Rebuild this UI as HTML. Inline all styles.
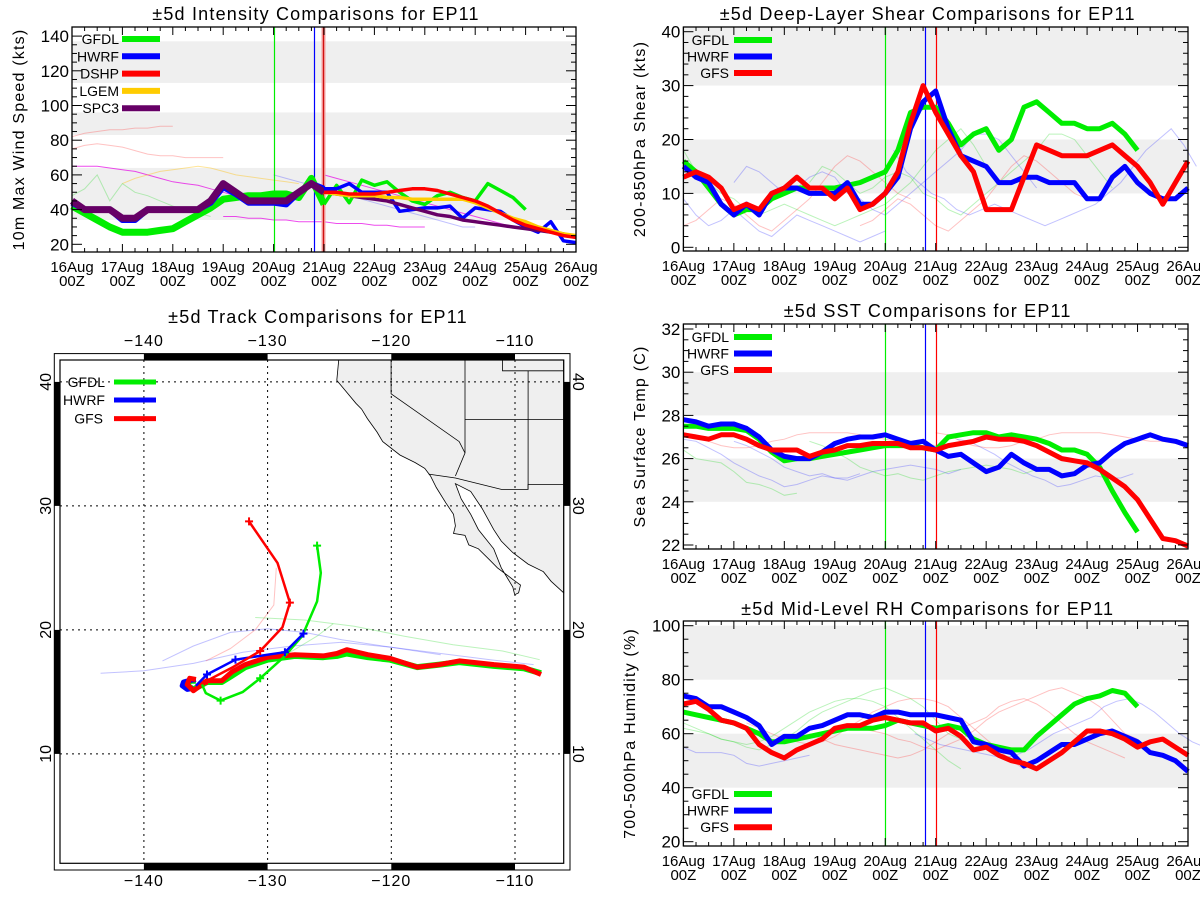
<!DOCTYPE html>
<html><head><meta charset="utf-8">
<style>
html,body{margin:0;padding:0;background:#fff;}
svg{display:block;font-family:"Liberation Sans",sans-serif;}
</style></head>
<body>
<svg id="fig" width="1200" height="900" viewBox="0 0 1200 900"></svg>
<script>
// ---------------- Intensity data (kts), 6-hourly ----------------
const spc3History = [45,40,40,40,35,35,40,40,40,40,40,45,55,50,45,45,45,45,50,55,50];
const hwrfIntHistory = [44,40,40,40,34,34,40,40,40,40,40,44,53,49,44,44,44,43,50,55,52];
const gfdlIntHistory = [42,38,34,30,27,27,27,28,29,33,37,41,46,47,48,48,49,49,47,58,43];
const gfdlIntFcst = [43,54,44,57,54,56,50,45,43,48,50,47,45,55,51,47,40];
const hwrfIntFcst = [52,52,55,50,50,50,39,40,41,41,42,35,41,40,39,34,30,27,33,22,21];
const dshpFcst = [50,50,49,49,49,50,51,52,52,51,49,47,45,42,38,34,31,29,27,25,24];
const lgemFcst = [50,49,48,48,48,47,47,46,46,46,46,46,44,41,38,35,33,30,28,26,25];
const spc3Fcst = [50,49,48,47,46,45,43,41,39,37,36,34,33,32,31,30,29,28,27,26,24];
const ghostInt1 = [82,84,85,86,86,87,87,88,88];
const ghostInt2 = [75,77,78,77,76,74,72,71,71,70,70,70,70];
const ghostInt3 = [65,65,65,64,63,62,60,58,56,55,54,52,50,48];
const ghostInt4 = [55,58,60,62,63,64,65,64,62,60,59,58,57,56,55];
const ghostInt5 = [36,36,35,35,34,34,33,33,33,32,32,32,31,31,30,30,30];
const ghostInt6 = [48,52,60,45,55,50,48,45,42,40,38,36];
const ghostInt7 = [60,58,56,54,52,50,48,46,44,42,40,38,36,34,32,30,30];
// ---------------- Shear data (kts) ----------------
const gfsShear = [13,14,13,11,7,8,7,10,11,13,11,11,9,11,7,8,10,14,23,30,25,21,17,14,7,7,7,13,19,18,17,17,17,18,19,17,15,12,8,12,16];
const hwrfShear = [15,13,12,8,6,8,6,10,11,11,10,10,10,12,8,8,10,13,22,27,29,22,17,16,15,12,12,13,13,12,12,12,9,9,13,15,12,10,9,9,11];
const gfdlShear = [16,14,11,8,6,7,7,9,10,11,11,11,11,11.5,12,13,14,18,25,26,26,23,19,21,22,18,20,26,27,25,23,23,22,22,23,21,18];
const ghostShear1 = [9,6,4,5,7,5,3,2,4,6,5,4,3,2,1,2,3];
const ghostShear2 = [4,5,7,9,8,6,4,3,5,7,9,12,15,17,16,14,12,10,9];
const ghostShear3 = [18,14,12,10,9,7,6,7,8,7,6,5,4,5,6,7,8,10,12,15,18,20,22,19,15];
const ghostShear4 = [12,15,14,12,10,11,13,14,13,10,9,7,6,8,10,12,14,16,18,21,21,20,17,14,11];
// ---------------- SST data (C) ----------------
const hwrfSST = [27.8,27.7,27.5,27.6,27.6,27.4,27.0,26.4,26.1,26.0,26.0,26.3,26.7,26.9,27.0,27.0,27.1,26.9,26.7,26.8,26.4,26.1,26.2,25.8,25.4,25.6,26.2,25.8,25.5,25.5,25.2,25.3,25.7,25.8,26.3,26.7,26.9,27.1,26.9,26.8,26.6];
const gfsSST = [27.1,27.0,26.9,27.1,27.1,26.9,26.6,26.4,26.4,26.4,26.1,26.3,26.4,26.6,26.6,26.7,26.7,26.7,26.5,26.5,26.4,26.6,26.7,26.8,27.0,26.9,26.9,26.8,26.6,26.3,26.0,25.9,25.8,25.5,25.1,24.7,24.1,23.2,22.3,22.2,21.95];
const gfdlSST = [27.5,27.5,27.4,27.4,27.4,27.3,26.9,26.3,25.9,26.0,26.0,26.1,26.2,26.3,26.4,26.5,26.6,26.6,26.6,26.5,26.4,27.0,27.1,27.2,27.2,27.0,27.1,27.0,26.9,26.7,26.4,26.4,26.2,25.6,24.5,23.5,22.6];
const ghostSST1 = [26.4,26.0,25.9,25.8,25.4,24.9,24.8,24.6,24.3,24.4];
const ghostSST2 = [26.9,26.8,26.5,26.2,25.8,25.5,25.2,25.0,24.7,24.8,25.0,25.2,25.1,25.1,25.3];
const ghostSST3 = [26.8,26.6,26.3,26.0,25.6,25.4,25.2,25.3,25.1,25.0,25.2,25.4,25.5,25.6,25.7,25.6,25.5,25.3,25.5];
const ghostSST4 = [27.2,27.1,26.8,26.6,26.5,26.5,26.6,26.8,26.9,27.1,27.2,27.2,27.2,27.2,27.1,27.0,26.9,26.8,26.8,26.7,26.6];
// ---------------- RH data (%) ----------------
const hwrfRH = [74,73,70,70,68,66,63,56,59,59,62,63,65,67,67,66,68,68,67,67,67,66,65,57,56,54,53,48,50,53,56,56,58,60,61,59,57,53,52,50,46];
const gfsRH = [71,72,69,65,64,62,56,53,51,54,56,58,62,63,63,65,66,65,64,64,61,62,59,54,55,52,50,49,47,50,53,57,61,61,60,58,55,57,58,55,52];
const gfdlRH = [68,67,66,65,64,62,60,57,57,58,59,60,61,62,62,62,63,65,64,63,62,63,62,58,56,55,54,54,59,63,67,71,73,74,76,75,70];
const ghostRH1 = [55,53,53,53,52,49,48,49,50,51,52];
const ghostRH2 = [62,61,60,58,57,55,54,56,58,61,65,68,70,72,74,76,77,75,73,70,65,60,58];
const ghostRH3 = [64,62,60,58,57,56,57,59,62,65,68,70,72,73,73,72,70,66,62,58,54,50,47];
const ghostRH4 = [60,58,56,55,54,53,52,51,52,54,57,60,62,64,66,70,72,73,71,68,64,60,57,55,53,51];
// ---------------- Track data (lon, lat) ----------------
const bestLon = [-107.9,-109.3,-111.7,-114.5,-116.1,-117.9,-120.1,-121.9,-123.6,-124.4,-125.5,-127.8,-130,-131.8,-132.9,-133.7,-134.9,-136,-136.5,-136.3,-135.8];
const bestLat = [16.4,17.0,17.2,17.5,17.2,17.0,17.7,18.0,18.4,18.1,17.9,18.0,17.8,17.2,16.6,15.9,15.9,15.1,15.6,16.1,16.0];
const gfdlBestLat = [16.5,16.9,17.1,17.4,17.2,17.0,17.6,17.8,18.1,17.9,17.8,17.9,17.6,17.0,16.3,15.8,15.8,15.2,15.5,15.9,15.9];
const hwrfHookLon = [-135.8,-136.4,-136.8,-136.9,-136.5,-136.0];
const hwrfHookLat = [16.0,15.9,15.8,15.5,15.2,15.3];
const gfsTrkLon = [-134.9,-132.8,-130.6,-128.8,-128.2,-129.2,-131.5];
const gfsTrkLat = [15.9,17.0,18.3,20.2,22.2,25.4,28.75];
const gfdlTrkLon = [-135.3,-135.0,-133.8,-132.0,-130.6,-128.7,-127.2,-126.0,-125.7,-126.0];
const gfdlTrkLat = [15.6,14.9,14.3,15.0,16.1,17.8,19.5,22.3,24.6,26.8];
const hwrfTrkLon = [-135.8,-134.9,-132.6,-130.0,-128.6,-127.1];
const hwrfTrkLat = [15.5,16.4,17.6,18.0,18.2,19.7];
const ghostTrk1Lon = [-143.5,-140,-136,-132,-128,-124,-120,-116,-112,-108.5];
const ghostTrk1Lat = [16.5,16.7,17.3,18.2,18.7,19.0,18.6,18.1,17.6,17.2];
const ghostTrk2Lon = [-131,-127,-123,-119,-115,-111,-108];
const ghostTrk2Lat = [21.0,20.8,20.3,19.5,18.8,18.3,17.6];
const ghostTrk3Lon = [-138.5,-136,-133,-130,-127,-124,-120,-116];
const ghostTrk3Lat = [17.5,18.7,19.8,20.1,19.8,19.2,18.6,18.0];
const ghostTrk4Lon = [-135,-133,-131,-129.5,-129.3];
const ghostTrk4Lat = [17.5,18.5,20.0,22.0,25.0];
const ghostTrk5Lon = [-134,-131,-128,-126,-124.7];
const ghostTrk5Lat = [16.0,17.3,18.3,19.5,20.5];
const dayLabels = ["16Aug","17Aug","18Aug","19Aug","20Aug","21Aug","22Aug","23Aug","24Aug","25Aug","26Aug"];
const lonTicks = [-140,-130,-120,-110];
const latTicks = [10,20,30,40];

const NS="http://www.w3.org/2000/svg";
const svg=document.getElementById('fig');
function mk(tag,attrs,parent){const e=document.createElementNS(NS,tag);for(const k in attrs)e.setAttribute(k,attrs[k]);(parent||svg).appendChild(e);return e;}
function txt(s,x,y,size,anchor,parent,extra){const t=mk('text',Object.assign({x:x,y:y,'font-size':size,'text-anchor':anchor||'middle',fill:'#000'},extra||{}),parent);t.textContent=s;return t;}

function panel(c){
  const g=mk('g',{});
  
  
  const X=h=>c.x0+(h/240)*(c.x1-c.x0);
  const Y=v=>c.yA+(v-c.vA)*(c.yB-c.yA)/(c.vB-c.vA);
  c.bands.forEach(b=>{
    const r=mk('rect',{x:c.x0,y:Math.max(c.y0,Y(b[1])),width:c.x1-c.x0,height:Math.min(c.y1,Y(b[0]))-Math.max(c.y0,Y(b[1])),fill:'#efefef'},g);
    
    
  });
  const t=txt(c.title,(c.x0+c.x1)/2-8,c.ty,18,'middle',g,{'letter-spacing':'1.2'});
  
  
  c.ghosts.forEach(gh=>{
    const p=gh.v.map((v,i)=>X(gh.s+6*i).toFixed(1)+','+Y(v).toFixed(1)).join(' ');
    const l=mk('polyline',{points:p,fill:'none',stroke:gh.c,'stroke-width':1},g);
    
    
  });
  c.vlines.forEach(v=>{
    const x=Math.round(X(v.h))+0.5;
    if(v.w>1.5){mk('line',{x1:x,x2:x,y1:c.y0,y2:c.y1,stroke:'#f4a0a0','stroke-width':v.w},g);}
    const l=mk('line',{x1:x,x2:x,y1:c.y0,y2:c.y1,stroke:v.c,'stroke-width':1.2},g);
    
    
  });
  c.series.forEach(s=>{
    const p=s.v.map((v,i)=>X(s.s+6*i).toFixed(1)+','+Y(v).toFixed(1)).join(' ');
    const l=mk('polyline',{points:p,fill:'none',stroke:s.c,'stroke-width':s.w,'stroke-linejoin':'round'},g);
    
    
  });
  const fr=mk('rect',{x:c.x0,y:c.y0,width:c.x1-c.x0,height:c.y1-c.y0,fill:'none',stroke:'#000','stroke-width':1.3},g);
  
  
  for(let h=0;h<=240;h+=6){
    const L=(h%24===0)?8:4;const x=X(h);
    mk('line',{x1:x,x2:x,y1:c.y1,y2:c.y1-L,stroke:'#000'},g);
    mk('line',{x1:x,x2:x,y1:c.y0,y2:c.y0+L,stroke:'#000'},g);
  }
  dayLabels.forEach((d,i)=>{
    const a=txt(d,X(i*24),c.y1+20,15,'middle',g);
    
    
    const b=txt('00Z',X(i*24),c.y1+34,15,'middle',g);
    
    
  });
  for(let v=c.ymin;v<=c.ymax+1e-9;v+=c.minor){
    const isMaj=Math.abs(((v-c.ymin)/c.major)-Math.round((v-c.ymin)/c.major))<1e-6;
    const y=Y(v);const L=isMaj?10:5;
    mk('line',{x1:c.x0,x2:c.x0+L,y1:y,y2:y,stroke:'#000'},g);
    mk('line',{x1:c.x1,x2:c.x1-L,y1:y,y2:y,stroke:'#000'},g);
    if(isMaj){const a=txt(String(Math.round(v)),c.x0-3,y+6,17,'end',g);
      
      }
  }
  const yl=txt(c.ylab,0,0,16,'middle',g,{transform:`translate(${c.ylx},${(c.y0+c.y1)/2}) rotate(-90)`,'letter-spacing':'1.2'});
  
  
  c.legend.forEach((e,i)=>{
    const y=c.ly+i*c.lstep;
    const a=txt(e[0],c.ltx,y+5,14,'end',g);
    
    
    const l=mk('line',{x1:c.lx1,x2:c.lx2,y1:y,y2:y,stroke:e[1],'stroke-width':6},g);
    
    
  });
}
const G='#00ee00',B='#0000ff',R='#ff0000',YL='#ffcc00',P='#660066';
const gR='rgba(255,80,80,0.35)',gB='rgba(80,80,255,0.35)',gG='rgba(60,220,60,0.35)',gY='rgba(255,190,0,0.4)',gM='rgba(230,0,230,0.7)';
panel({name:'intensity-chart',title:'±5d Intensity Comparisons for EP11',ty:20,x0:72,x1:576,y0:27,y1:252,yA:244.3,vA:20,yB:36.1,vB:140,
  ymin:20,ymax:140,major:20,minor:5,ylab:'10m Max Wind Speed (kts)',ylx:24,
  bands:[[34,64],[83,96],[113,137]],
  ghosts:[{s:0,v:ghostInt1,c:gR},{s:0,v:ghostInt2,c:gR},{s:0,v:ghostInt3,c:gM},{s:24,v:ghostInt4,c:gY},{s:72,v:ghostInt5,c:gM},{s:0,v:ghostInt6,c:gG},{s:96,v:ghostInt7,c:gB},{s:120,v:ghostInt7,c:gM}],
  vlines:[{h:96,c:G,w:1},{h:115,c:B,w:1},{h:119.5,c:'#d01010',w:4}],
  series:[{s:0,v:gfdlIntHistory,c:G,w:7,n:'gfdl-history-line'},{s:0,v:hwrfIntHistory,c:B,w:6,n:'hwrf-history-line'},{s:0,v:spc3History,c:P,w:7,n:'spc3-history-line'},
    {s:120,v:gfdlIntFcst,c:G,w:3.5,n:'gfdl-forecast-line'},{s:120,v:hwrfIntFcst,c:B,w:3.5,n:'hwrf-forecast-line'},{s:120,v:spc3Fcst,c:P,w:3.5,n:'spc3-forecast-line'},
    {s:120,v:lgemFcst,c:YL,w:3.5,n:'lgem-forecast-line'},{s:120,v:dshpFcst,c:R,w:3.5,n:'dshp-forecast-line'}],
  legend:[['GFDL',G],['HWRF',B],['DSHP',R],['LGEM',YL],['SPC3',P]],ly:39,lstep:17.3,ltx:119,lx1:122,lx2:160});
panel({name:'shear-chart',title:'±5d Deep-Layer Shear Comparisons for EP11',ty:20,x0:683.4,x1:1188,y0:27,y1:251,yA:247.3,vA:0,yB:31.7,vB:40,
  ymin:0,ymax:40,major:10,minor:2,ylab:'200-850hPa Shear (kts)',ylx:645,
  bands:[[10,20],[30,45]],
  ghosts:[{s:0,v:ghostShear1,c:gB},{s:0,v:ghostShear2,c:gR},{s:0,v:ghostShear3,c:gG},{s:24,v:ghostShear4,c:gB},{s:84,v:ghostShear2,c:gR},{s:100,v:ghostShear3,c:gB},{s:60,v:ghostShear4,c:gG}],
  vlines:[{h:96,c:G,w:1},{h:115,c:B,w:1},{h:120,c:R,w:1.5}],
  series:[{s:0,v:gfdlShear,c:G,w:5,n:'gfdl-shear-line'},{s:0,v:hwrfShear,c:B,w:5,n:'hwrf-shear-line'},{s:0,v:gfsShear,c:R,w:5,n:'gfs-shear-line'}],
  legend:[['GFDL',G],['HWRF',B],['GFS',R]],ly:40,lstep:16.5,ltx:729,lx1:734,lx2:772});
panel({name:'sst-chart',title:'±5d SST Comparisons for EP11',ty:317,x0:683.4,x1:1188,y0:324,y1:549,yA:545,vA:22,yB:329,vB:32,
  ymin:22,ymax:32,major:2,minor:0.5,ylab:'Sea Surface Temp (C)',ylx:645,
  bands:[[24,26],[28,30]],
  ghosts:[{s:0,v:ghostSST1,c:gG},{s:0,v:ghostSST2,c:gB},{s:24,v:ghostSST3,c:gB},{s:60,v:ghostSST3,c:gG},{s:120,v:ghostSST4,c:gR},{s:0,v:ghostSST4,c:gR},{s:130,v:ghostSST2,c:gB}],
  vlines:[{h:96,c:G,w:1},{h:115,c:B,w:1},{h:120,c:R,w:1.5}],
  series:[{s:0,v:gfdlSST,c:G,w:5,n:'gfdl-sst-line'},{s:0,v:hwrfSST,c:B,w:5,n:'hwrf-sst-line'},{s:0,v:gfsSST,c:R,w:5,n:'gfs-sst-line'}],
  legend:[['GFDL',G],['HWRF',B],['GFS',R]],ly:337,lstep:16.5,ltx:729,lx1:734,lx2:772});
panel({name:'rh-chart',title:'±5d Mid-Level RH Comparisons for EP11',ty:615,x0:683.4,x1:1188,y0:621,y1:846,yA:841.7,vA:20,yB:625.7,vB:100,
  ymin:20,ymax:100,major:20,minor:5,ylab:'700-500hPa Humidity (%)',ylx:635,
  bands:[[40,60],[80,100]],
  ghosts:[{s:0,v:ghostRH1,c:gB},{s:0,v:ghostRH2,c:gG},{s:30,v:ghostRH3,c:gR},{s:60,v:ghostRH4,c:gR},{s:84,v:ghostRH2,c:gR},{s:110,v:ghostRH4,c:gB},{s:0,v:ghostRH3,c:gG}],
  vlines:[{h:96,c:G,w:1},{h:115,c:B,w:1},{h:120,c:R,w:1.5}],
  series:[{s:0,v:gfdlRH,c:G,w:5,n:'gfdl-rh-line'},{s:0,v:hwrfRH,c:B,w:5,n:'hwrf-rh-line'},{s:0,v:gfsRH,c:R,w:5,n:'gfs-rh-line'}],
  legend:[['GFDL',G],['HWRF',B],['GFS',R]],ly:794,lstep:16.6,ltx:729,lx1:734,lx2:772});

(function(){
  const g=mk('g',{});
  
  
  const ix0=60,ix1=563.7,iy0=360,iy1=863.3;
  const LX=lon=>143.9+(lon+140)*12.37;
  const LY=lat=>629.9-(lat-20)*12.4;
  const tt=txt('±5d Track Comparisons for EP11',318,323,18,'middle',g,{'letter-spacing':'1.2'});
  
  
  mk('rect',{x:54.3,y:353.6,width:515.7,height:516.4,fill:'#fff',stroke:'#000','stroke-width':1},g);
  const land=[[338.7,360.1],[336.8,380.4],[346.3,391.8],[355.9,403.3],[361.6,409.1],[367.4,418.6],[377,432],[382.7,441.6],[399.9,455],[415.2,462.6],[424.8,468.4],[430.5,476],[436.3,487.5],[445.8,502.8],[453.5,514.3],[455.4,525.8],[453.5,533.4],[465,535.4],[468.8,544.9],[478.4,548.8],[489.9,560.2],[497.5,567.9],[512.8,579.4],[520.5,585.1],[518.6,592.8],[514.7,594.7],[512.8,587],[501.3,567.9],[493.7,548.8],[478.4,529.6],[470.7,514.3],[461.2,499],[455.4,483.7],[470.7,491.4],[482.2,508.6],[493.7,529.6],[501.3,541.1],[512.8,552.6],[528.1,564.1],[543.4,571.7],[551.1,581.3],[563.7,592.8],[563.7,360]];
  const lp=mk('polygon',{points:land.map(p=>p.join(',')).join(' '),fill:'#efefef',stroke:'#000','stroke-width':0.8},g);
  
  
  const borders=[[[391.1,360],[391.1,393.8],[459.2,441.6],[465,453],[455.4,476]],[[428.6,474.1],[455.4,478],[501.3,489.4],[528.1,489.4],[528.1,484.5],[563.7,484.5]],[[465,360],[465,453]],[[465,419.4],[563.7,419.4]],[[528.1,370.8],[528.1,489.4]],[[502.5,360],[502.5,370.8],[563.7,370.8]]];
  borders.forEach(b=>{const l=mk('polyline',{points:b.map(p=>p.join(',')).join(' '),fill:'none',stroke:'#000','stroke-width':0.8},g);
    
    });
  lonTicks.forEach(lon=>{const l=mk('line',{x1:LX(lon),x2:LX(lon),y1:iy0,y2:iy1,stroke:'#000','stroke-dasharray':'2,4','stroke-width':1},g);
    
    
    const a=txt('\u2212'+Math.abs(lon),LX(lon),346,16,'middle',g,{'letter-spacing':'1'});
    
    
    const b=txt('\u2212'+Math.abs(lon),LX(lon),886,16,'middle',g,{'letter-spacing':'1'});
    
    });
  latTicks.forEach(lat=>{const l=mk('line',{x1:ix0,x2:ix1,y1:LY(lat),y2:LY(lat),stroke:'#000','stroke-dasharray':'2,4','stroke-width':1},g);
    
    
    const a=txt(String(lat),0,0,16,'middle',g,{transform:`translate(51,${LY(lat)}) rotate(-90)`});
    
    
    const b=txt(String(lat),0,0,16,'middle',g,{transform:`translate(573,${LY(lat)}) rotate(90)`});
    
    });
  [[-140,-130],[-120,-110]].forEach(s=>{
    mk('rect',{x:LX(s[0]),y:354,width:LX(s[1])-LX(s[0]),height:6,fill:'#000'},g);
    mk('rect',{x:LX(s[0]),y:863.3,width:LX(s[1])-LX(s[0]),height:6.5,fill:'#000'},g);
  });
  [[40,30],[20,10]].forEach(s=>{
    mk('rect',{x:54.5,y:LY(s[0]),width:5.5,height:LY(s[1])-LY(s[0]),fill:'#000'},g);
    mk('rect',{x:563.7,y:LY(s[0]),width:6,height:LY(s[1])-LY(s[0]),fill:'#000'},g);
  });
  mk('rect',{x:ix0,y:iy0,width:ix1-ix0,height:iy1-iy0,fill:'none',stroke:'#000','stroke-width':1.2},g);
  function trk(lons,lats,col,w,name){const l=mk('polyline',{points:lons.map((lo,i)=>LX(lo).toFixed(1)+','+LY(lats[i]).toFixed(1)).join(' '),fill:'none',stroke:col,'stroke-width':w,'stroke-linejoin':'round'},g);
    
    return l;}
  trk(ghostTrk1Lon,ghostTrk1Lat,gB,1,'ensemble-track');
  trk(ghostTrk2Lon,ghostTrk2Lat,gG,1,'ensemble-track');
  trk(ghostTrk3Lon,ghostTrk3Lat,gB,1,'ensemble-track');
  trk(ghostTrk4Lon,ghostTrk4Lat,gR,1,'ensemble-track');
  trk(ghostTrk5Lon,ghostTrk5Lat,gG,1,'ensemble-track');
  trk(bestLon,gfdlBestLat,G,6,'gfdl-history-track');
  trk(hwrfHookLon,hwrfHookLat,B,5,'hwrf-history-track');
  trk(bestLon,bestLat,R,5,'gfs-history-track');
  trk(gfdlTrkLon,gfdlTrkLat,G,2.5,'gfdl-forecast-track');
  trk(hwrfTrkLon,hwrfTrkLat,B,2.5,'hwrf-forecast-track');
  trk(gfsTrkLon,gfsTrkLat,R,2.5,'gfs-forecast-track');
  function cross(lon,lat,col){const x=LX(lon),y=LY(lat);
    const p=mk('path',{d:`M${x-4},${y}H${x+4}M${x},${y-4}V${y+4}`,stroke:col,'stroke-width':2},g);
    
    }
  [0,2,4,6].forEach(i=>cross(gfsTrkLon[i],gfsTrkLat[i],R));
  [2,4,9].forEach(i=>cross(gfdlTrkLon[i],gfdlTrkLat[i],G));
  [1,2,4,5].forEach(i=>cross(hwrfTrkLon[i],hwrfTrkLat[i],B));
  [['GFDL',G,382],['HWRF',B,400],['GFS',R,418.6]].forEach(e=>{
    const a=txt(e[0],e[0]==='GFS'?103:105,e[2]+5,14,'end',g);
    
    
    const l=mk('line',{x1:114,x2:156,y1:e[2],y2:e[2],stroke:e[1],'stroke-width':5},g);
    
    
  });
})();
</script>
</body></html>
